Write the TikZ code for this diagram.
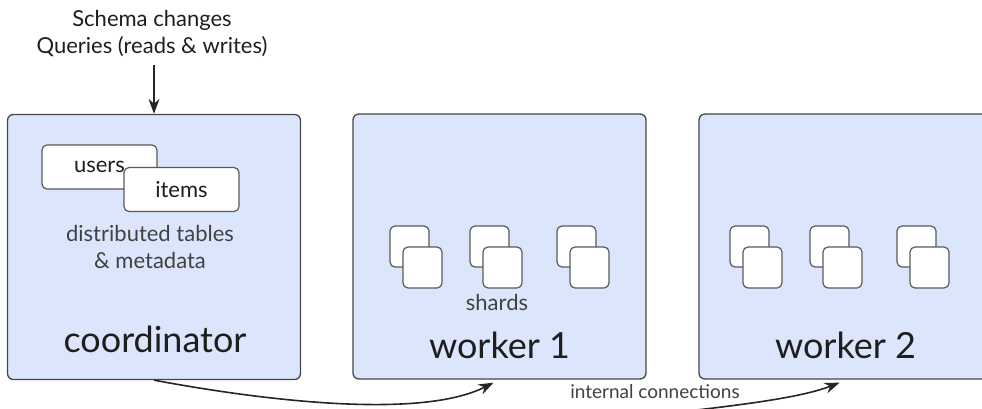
\documentclass[tikz,border=0pt]{standalone}
\usepackage{fontspec}
\setmainfont{Lato}
\usepackage{tikz}
\usetikzlibrary{positioning,arrows.meta}
\definecolor{hostfill}{RGB}{219,230,252}
\definecolor{hostrule}{RGB}{70,70,70}
\definecolor{shardrule}{RGB}{90,90,90}
\definecolor{inktext}{RGB}{30,30,30}
\definecolor{softtext}{RGB}{65,65,65}

\begin{document}
\begin{tikzpicture}[
  x=1pt,y=-1pt,
  font=\fontsize{22}{27}\selectfont,
  host/.style={draw=hostrule,fill=hostfill,line width=1.3pt,rounded corners=6pt,
               minimum width=293pt,minimum height=265pt,inner sep=0pt},
  tbl/.style={draw=shardrule,fill=white,line width=1.2pt,rounded corners=5pt,
              minimum width=115pt,minimum height=44pt,inner sep=0pt,text=inktext},
  shard/.style={draw=shardrule,fill=white,line width=1.2pt,rounded corners=5pt,
                minimum width=39pt,minimum height=41pt,inner sep=0pt},
  big/.style={font=\fontsize{36}{40}\selectfont,text=inktext,anchor=base},
  lbl/.style={text=softtext,align=center},
  ar/.style={-{Stealth[length=15pt,width=11pt]},line width=1.6pt,black!85},
]
\useasboundingbox (0,0) rectangle (982,409);

% nodes of the cluster
\node[host] (coord) at (154,247) {};
\node[host] (w1) at (499.5,246.5) {};
\node[host] (w2) at (845.5,246.5) {};

\node[align=center,text=inktext] (req) at (152,34)
      {Schema changes\\Queries (reads \& writes)};

\node[tbl] (users) at (99.5,167) {users};
\node[tbl] (items) at (181.5,189.5) {items};
\node[lbl] (meta) at (150,247) {distributed tables\\\& metadata};
\node[big] (coordname) at (155,352) {coordinator};

\foreach \sx [count=\k] in {390,470,557} {
  \node[shard] (sa\k) at (\sx+19.5,246.5) {};
  \node[shard] (sb\k) at (\sx+32.5,267.5) {};
}
\foreach \sx [count=\k] in {730,810,897} {
  \node[shard] (ta\k) at (\sx+19.5,246.5) {};
  \node[shard] (tb\k) at (\sx+32.5,267.5) {};
}
\node[lbl,anchor=base] (shards) at (497,310) {shards};
\node[big] (w1name) at (499.5,358) {worker 1};
\node[big] (w2name) at (845.5,358) {worker 2};

\node[lbl,anchor=base,font=\fontsize{19}{22}\selectfont] (conn) at (655,398)
      {internal connections};
\coordinate (feed) at (625,418);

\draw[ar,line width=1.3pt,shorten <=4pt] (req.south -| coord.north) -- (coord.north);
\draw[ar] (coord.south) .. controls (260,400) and (420,420)
      .. ([xshift=-6pt,yshift=-3pt]w1.south);
\draw[ar] (feed) .. controls (715,408) and (795,400)
      .. ([xshift=-6pt,yshift=-3pt]w2.south);
\end{tikzpicture}
\end{document}
